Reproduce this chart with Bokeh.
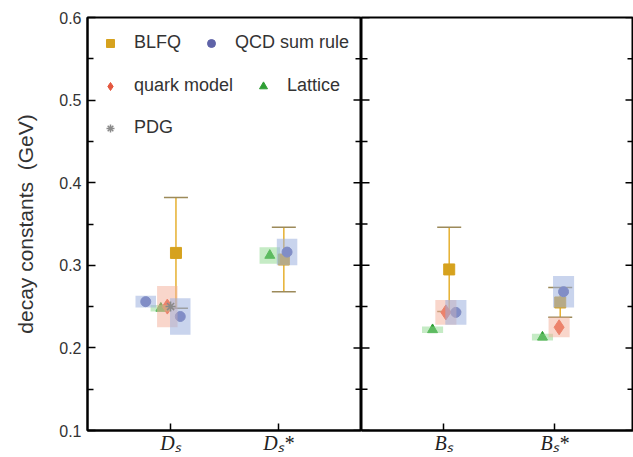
from bokeh.plotting import figure
from bokeh.layouts import row
from bokeh.models import (Range1d, FixedTicker, NumeralTickFormatter,
                          Legend, LegendItem, Whisker, ColumnDataSource, TeeHead)
from bokeh.embed import file_html
from bokeh.resources import INLINE

# ---------------- data (GeV) ----------------
left_labels = ["Dₛ", "Dₛ*"]
right_labels = ["Bₛ", "Bₛ*"]
y_ticks = [0.1, 0.2, 0.3, 0.4, 0.5, 0.6]
y_minor = [0.15, 0.25, 0.35, 0.45, 0.55]

# BLFQ (with uncertainties)
blfq_left_cat = [1, 2]
blfq_left_val = [0.315, 0.307]
blfq_left_err = [0.067, 0.039]
blfq_right_cat = [1, 2]
blfq_right_val = [0.295, 0.255]
blfq_right_err = [0.051, 0.018]

# QCD sum rule
qcd_left_cat = [1, 1, 2]
qcd_left_val = [0.256, 0.238, 0.316]
qcd_left_err = [0.007, 0.022, 0.016]
qcd_right_cat = [1, 2]
qcd_right_val = [0.243, 0.268]
qcd_right_err = [0.015, 0.019]

# quark model
qm_left_cat = [1]
qm_left_val = [0.250]
qm_left_err = [0.025]
qm_right_cat = [1, 2]
qm_right_val = [0.243, 0.225]
qm_right_err = [0.015, 0.012]

# Lattice
lat_left_cat = [1, 2]
lat_left_val = [0.248, 0.312]
lat_left_err = [0.004, 0.010]
lat_right_cat = [1, 2]
lat_right_val = [0.222, 0.213]
lat_right_err = [0.004, 0.004]

# PDG
pdg_left_cat = [1]
pdg_left_val = [0.250]

# ---------------- layout offsets (horizontal dodge, category units) ----------------
blfq_left_dx = [0.05, 0.05]
blfq_right_dx = [0.05, 0.05]
qcd_left_dx = [-0.23, 0.09, 0.08]
qcd_right_dx = [0.11, 0.08]
qm_left_dx = [-0.03]
qm_right_dx = [0.02, 0.04]
lat_left_dx = [-0.09, -0.08]
lat_right_dx = [-0.10, -0.11]
pdg_left_dx = [0.0]

# ---------------- styles ----------------
C_BLFQ = "#D6A21E"
C_BLFQ_BAR = "#E6B030"
C_QCD = "#5F63A8"
C_QCD_BOX = "#9DB0DE"
C_QM = "#E4573F"
C_QM_BOX = "#F4AE98"
C_LAT = "#2E9E34"
C_LAT_BOX = "#8CD88C"
C_PDG = "#8A8A8A"
TXT = "#333333"
FONT = "Liberation Sans"
H = 457
W1, W2 = 361, 272
ML = 87


def xs(cat, dx):
    return [c + d for c, d in zip(cat, dx)]


def edge_ticks(p, x_edge, direction, frame_w):
    """inward tick marks along an unlabeled vertical frame edge"""
    xr = p.x_range
    per_px = (xr.end - xr.start) / frame_w
    for tks, ln in ((y_ticks, 8), (y_minor, 6)):
        x1 = x_edge + direction * ln * per_px
        p.segment(x0=[x_edge] * len(tks), y0=tks, x1=[x1] * len(tks), y1=tks,
                  line_color="black", line_width=1.5)


def style_fig(p, labels):
    p.outline_line_color = "black"
    p.outline_line_width = 2
    p.background_fill_color = "white"
    p.border_fill_color = "white"
    p.xgrid.visible = False
    p.ygrid.visible = False
    xa = p.xaxis[0]
    xa.ticker = FixedTicker(ticks=[1, 2])
    xa.major_label_overrides = {1: labels[0], 2: labels[1]}
    xa.major_tick_in = 7
    xa.major_tick_out = 0
    xa.minor_tick_line_color = None
    xa.axis_line_color = "black"
    xa.axis_line_width = 2
    xa.major_tick_line_width = 1.5
    xa.major_label_text_font = "Liberation Serif"
    xa.major_label_text_font_style = "italic"
    xa.major_label_text_font_size = "20px"
    xa.major_label_text_color = "#222222"
    xa.major_label_standoff = 1


p1 = figure(width=W1, height=H, x_range=Range1d(0.23, 2.77), y_range=Range1d(0.1, 0.6),
            output_backend="svg", toolbar_location=None,
            min_border_left=ML, min_border_right=0, min_border_top=17, min_border_bottom=27)
p2 = figure(width=W2, height=H, x_range=Range1d(0.26, 2.71), y_range=Range1d(0.1, 0.6),
            output_backend="svg", toolbar_location=None, y_axis_location=None,
            min_border_left=0, min_border_right=0, min_border_top=17, min_border_bottom=27)
style_fig(p1, left_labels)
style_fig(p2, right_labels)

ya = p1.yaxis[0]
ya.ticker = FixedTicker(ticks=y_ticks, minor_ticks=y_minor)
ya.formatter = NumeralTickFormatter(format="0.0")
ya.major_tick_in = 8
ya.major_tick_out = 0
ya.minor_tick_in = 6
ya.minor_tick_out = 0
ya.axis_line_color = "black"
ya.axis_line_width = 2
ya.major_tick_line_width = 1.5
ya.minor_tick_line_width = 1.5
ya.major_label_text_font = FONT
ya.major_label_text_font_size = "16px"
ya.major_label_text_color = TXT
ya.major_label_standoff = 6
ya.axis_label = "decay constants\u00a0 (GeV)"
ya.axis_label_text_font = FONT
ya.axis_label_text_font_size = "21px"
ya.axis_label_text_font_style = "normal"
ya.axis_label_text_color = TXT
ya.axis_label_standoff = 19

edge_ticks(p1, p1.x_range.end, -1, W1 - ML)
edge_ticks(p2, p2.x_range.start, 1, W2)
edge_ticks(p2, p2.x_range.end, -1, W2)

BOXW = 0.19


def draw(p, side):
    d = globals()
    cat = d[f"blfq_{side}_cat"]; dx = d[f"blfq_{side}_dx"]
    val = d[f"blfq_{side}_val"]; err = d[f"blfq_{side}_err"]
    src = ColumnDataSource(dict(x=xs(cat, dx),
                                lo=[v - e for v, e in zip(val, err)],
                                hi=[v + e for v, e in zip(val, err)]))
    w = Whisker(base="x", lower="lo", upper="hi", source=src, dimension="height",
                line_color=C_BLFQ_BAR, line_width=1.5, level="underlay",
                upper_head=TeeHead(size=24, line_color="#9C8A5A", line_width=1.5),
                lower_head=TeeHead(size=24, line_color="#9C8A5A", line_width=1.5))
    p.add_layout(w)
    rends = {}
    rends["blfq"] = p.scatter(xs(cat, dx), val, marker="square", size=11,
                              fill_color=C_BLFQ, line_color=C_BLFQ)
    rends["lat"] = p.scatter(xs(d[f"lat_{side}_cat"], d[f"lat_{side}_dx"]), d[f"lat_{side}_val"],
                             marker="triangle", size=10, fill_color=C_LAT, line_color=C_LAT)
    rends["qm"] = p.scatter(xs(d[f"qm_{side}_cat"], d[f"qm_{side}_dx"]), d[f"qm_{side}_val"],
                            marker="diamond", size=15, fill_color=C_QM, line_color=C_QM)
    rends["qcd"] = p.scatter(xs(d[f"qcd_{side}_cat"], d[f"qcd_{side}_dx"]), d[f"qcd_{side}_val"],
                             marker="circle", size=10, fill_color=C_QCD, line_color=C_QCD)
    # translucent uncertainty boxes drawn over the markers
    for key, col, a in (("lat", C_LAT_BOX, 0.5), ("qm", C_QM_BOX, 0.5), ("qcd", C_QCD_BOX, 0.55)):
        p.rect(xs(d[f"{key}_{side}_cat"], d[f"{key}_{side}_dx"]), d[f"{key}_{side}_val"],
               width=BOXW, height=[2 * e for e in d[f"{key}_{side}_err"]],
               fill_color=col, fill_alpha=a, line_color=None)
    return rends


r1 = draw(p1, "left")
draw(p2, "right")
r_pdg = p1.scatter(xs(pdg_left_cat, pdg_left_dx), pdg_left_val, marker="asterisk", size=10,
                   line_color=C_PDG, line_width=1.5)


def mk_legend(items, loc):
    lg = Legend(items=items, location=loc, orientation="horizontal",
                border_line_color=None, background_fill_alpha=0, padding=0, margin=0,
                spacing=20, label_standoff=14, glyph_width=20, glyph_height=20,
                label_height=20, label_text_font=FONT, label_text_font_size="18px",
                label_text_color=TXT)
    p1.add_layout(lg)


mk_legend([LegendItem(label="BLFQ", renderers=[r1["blfq"]]),
           LegendItem(label="QCD sum rule", renderers=[r1["qcd"]])], (13, 377))
mk_legend([LegendItem(label="quark model", renderers=[r1["qm"]]),
           LegendItem(label="Lattice", renderers=[r1["lat"]])], (13, 334))
mk_legend([LegendItem(label="PDG", renderers=[r_pdg])], (13, 292))

layout = row(p1, p2, spacing=0)
open("out.html", "w").write(file_html(layout, INLINE))
